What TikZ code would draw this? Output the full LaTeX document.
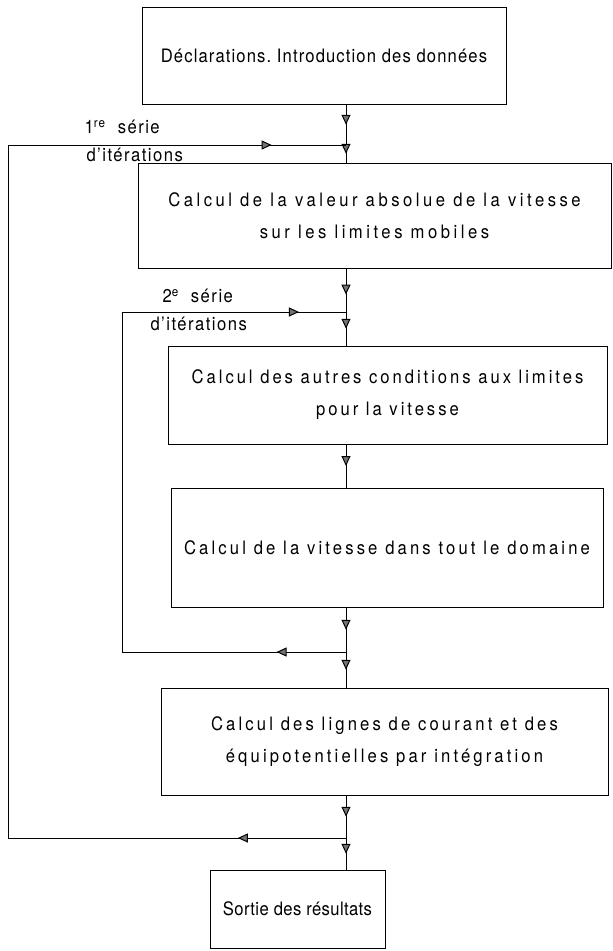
\documentclass[tikz,border=0pt]{standalone}
\usepackage{fontspec}
\setmainfont{TeX Gyre Heros}[FakeStretch=0.9,LetterSpace=8]
\usetikzlibrary{arrows.meta,decorations.markings}
\begin{document}
\begin{tikzpicture}[x=1pt,y=-1pt,line width=1pt,
  box/.style={draw,minimum width=#1,inner sep=0pt,align=center,font=\fontsize{18.5}{32}\selectfont},
  ls/.style={font=\fontsize{18.5}{32}\selectfont\addfontfeatures{LetterSpace=#1}},
  lbl/.style={anchor=west,inner sep=0pt,font=\fontsize{18.5}{20}\selectfont},
  tri/.style={postaction={decorate,decoration={markings,
    mark=at position #1 with {\arrow{Triangle[length=10pt,width=9pt,fill=black!55]}}}}},
  tri/.default=0.5]
\useasboundingbox (0,0) rectangle (613,951);
% Kaestchen
\node[box=364pt,minimum height=97pt,ls=6]   (decl)   at (324,55.5)  {Déclarations.\ Introduction des données};
\node[box=473pt,minimum height=105pt,ls=19] (vabs)   at (374.5,215.5) {Calcul de la valeur absolue de la vitesse\\sur les limites mobiles};
\node[box=439pt,minimum height=98pt,ls=16]  (cond)   at (387.5,395) {Calcul des autres conditions aux limites\\pour la vitesse};
\node[box=432pt,minimum height=119pt,ls=17] (dom)    at (387,547.5) {Calcul de la vitesse dans tout le domaine};
\node[box=447pt,minimum height=107pt,ls=17] (lignes) at (384.5,741.5) {Calcul des lignes de courant et des\\équipotentielles par intégration};
\node[box=175pt,minimum height=78pt,ls=2]   (sortie) at (297.5,909) {Sortie des résultats};
% Verzweigungen
\coordinate (j1) at (346,145);
\coordinate (j2) at (346,312);
\coordinate (j3) at (346,652);
\coordinate (j4) at (346,838);
\coordinate (a1) at (8,145);
\coordinate (a4) at (8,838);
\coordinate (b2) at (122,312);
\coordinate (b3) at (122,652);
% Hauptlinie
\draw[tri] (decl.south -| j1) -- (j1);
\draw[tri] (j1) -- (vabs.north -| j1);
\draw[tri=0.6] (vabs.south -| j2) -- (j2);
\draw[tri] (j2) -- (cond.north -| j2);
\draw[tri] (cond.south -| j2) -- (dom.north -| j2);
\draw[tri] (dom.south -| j3) -- (j3);
\draw[tri] (j3) -- (lignes.north -| j3);
\draw[tri] (lignes.south -| j4) -- (j4);
\draw[tri] (j4) -- (sortie.north -| j4);
% Schleifen
\draw[tri=0.32] (j4) -- (a4);
\draw (a4) -- (a1);
\draw[tri=0.78] (a1) -- (j1);
\draw[tri=0.31] (j3) -- (b3);
\draw (b3) -- (b2);
\draw[tri=0.79] (b2) -- (j2);
% Beschriftung
\node[lbl] (s1) at (84,127) {1\textsuperscript{re}\ \ série};
\node[lbl] (i1) at (86,155) {d'itérations};
\node[lbl] (s2) at (162,296) {2\textsuperscript{e}\ \ série};
\node[lbl] (i2) at (150,324) {d'itérations};
\end{tikzpicture}
\end{document}
